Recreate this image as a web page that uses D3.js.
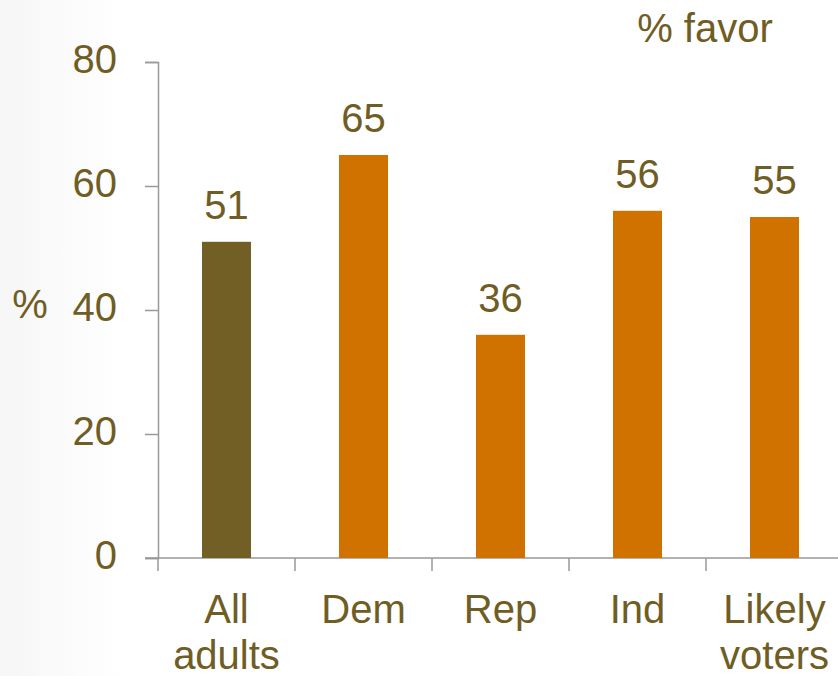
<!DOCTYPE html>
<html><head><meta charset="utf-8">
<script src="https://cdn.jsdelivr.net/npm/d3@7"></script>
<style>body{margin:0;background:#fff}svg{display:block}text{font-family:"Liberation Sans",Arial,sans-serif}</style>
</head><body>
<script>
const categories = [["All","adults"],["Dem"],["Rep"],["Ind"],["Likely","voters"]];
const values = [51, 65, 36, 56, 55];
const colors = ["#725f25","#d07200","#d07200","#d07200","#d07200"];
const yTicks = [0, 20, 40, 60, 80];

const W = 838, H = 676;
const ink = "#6f5d24";
const fs = "40px";
const svg = d3.select("body").append("svg").attr("width", W).attr("height", H);

const defs = svg.append("defs");
const g = defs.append("linearGradient").attr("id","bg").attr("x1","0").attr("x2","1");
g.append("stop").attr("offset","0").attr("stop-color","#f6f6f6");
g.append("stop").attr("offset","0.15").attr("stop-color","#ffffff");
svg.append("rect").attr("width", W).attr("height", H).attr("fill","url(#bg)");

const x0 = 158, band = 137;
const x = d3.scaleBand().domain(d3.range(values.length)).range([x0, x0 + band * values.length]).paddingInner(0).paddingOuter(0);
const y = d3.scaleLinear().domain([0, 80]).range([558, 62]);
const barW = 49;

// y axis
const yAxis = svg.append("g").attr("transform", `translate(${x0},0)`)
  .call(d3.axisLeft(y).tickValues(yTicks).tickSize(13).tickPadding(28));
yAxis.select(".domain").attr("stroke","#999").attr("stroke-width",1.5);
yAxis.selectAll(".tick line").attr("stroke","#999").attr("stroke-width",1.5);
yAxis.selectAll(".tick text").attr("fill", ink).style("font-size",fs).attr("dy","0.25em");

// x axis
const xAxis = svg.append("g").attr("transform", `translate(0,${y(0)})`);
xAxis.append("line").attr("x1", x0 - 13).attr("x2", W).attr("y1",0).attr("y2",0).attr("stroke","#999").attr("stroke-width",1.5);
xAxis.selectAll("line.t").data(d3.range(values.length + 1)).join("line").attr("class","t")
  .attr("x1", i => x0 + i * x.bandwidth()).attr("x2", i => x0 + i * x.bandwidth())
  .attr("y1",0).attr("y2",13).attr("stroke","#999").attr("stroke-width",1.5);

// bars
svg.selectAll("rect.bar").data(values).join("rect").attr("class","bar")
  .attr("x", (d,i) => x(i) + x.bandwidth()/2 - barW/2)
  .attr("width", barW)
  .attr("y", d => y(d)).attr("height", d => y(0) - y(d))
  .attr("fill", (d,i) => colors[i]);

// value labels
svg.selectAll("text.val").data(values).join("text").attr("class","val")
  .attr("x", (d,i) => x(i) + x.bandwidth()/2)
  .attr("y", d => y(d) - 23)
  .attr("text-anchor","middle").attr("fill", ink).style("font-size",fs)
  .text(d => d);

// category labels
categories.forEach((lines, i) => {
  const t = svg.append("text").attr("text-anchor","middle").attr("fill", ink).style("font-size",fs)
    .attr("x", x(i) + x.bandwidth()/2);
  lines.forEach((l, j) => t.append("tspan").attr("x", x(i) + x.bandwidth()/2).attr("y", 623 + j * 46).text(l));
});

svg.append("text").attr("x", 30).attr("y", 318).attr("text-anchor","middle").attr("fill", ink).style("font-size",fs).text("%");
svg.append("text").attr("x", 705).attr("y", 42).attr("text-anchor","middle").attr("fill", ink).style("font-size",fs).text("% favor");
</script>
</body></html>
